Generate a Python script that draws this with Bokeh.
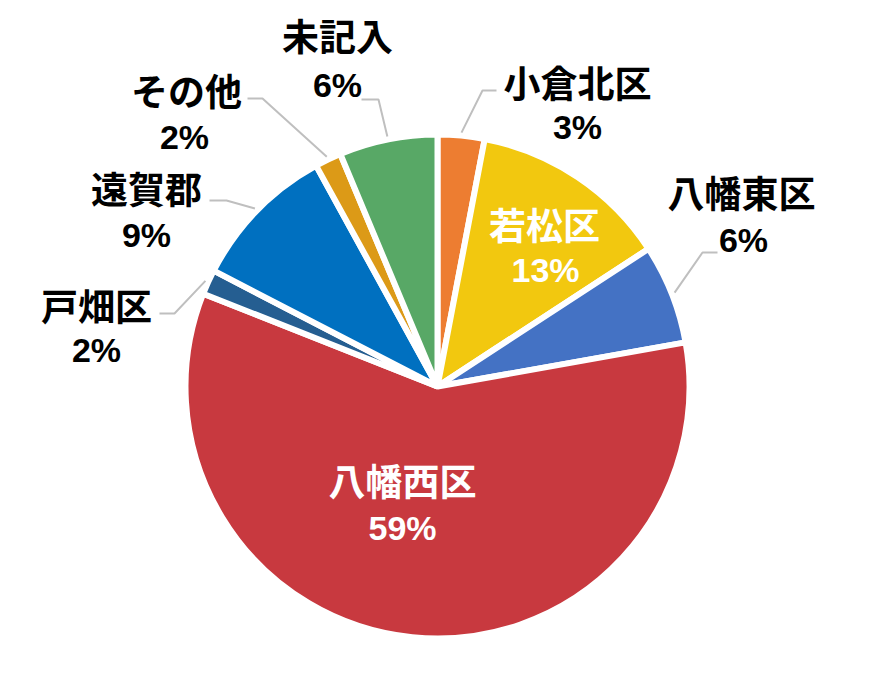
import math
from bokeh.plotting import figure
from bokeh.models import Range1d, ColumnDataSource
from bokeh.core.properties import value
from bokeh.embed import file_html
from bokeh.resources import INLINE

# ---------------- data ----------------
categories = ["小倉北区", "若松区", "八幡東区", "八幡西区", "戸畑区", "遠賀郡", "その他", "未記入"]
shares = [3.0, 12.8, 6.4, 58.8, 1.6, 9.4, 1.7, 6.3]
pct_labels = ["3%", "13%", "6%", "59%", "2%", "9%", "2%", "6%"]
colors = ["#ED7D31", "#F2C80F", "#4472C4", "#C8393F", "#255E91", "#0070C0", "#DC9A17", "#58A866"]

# ---------------- layout ----------------
R = 252
LEADER_R = 255
name_pos = [(140, 305), (107, 163), (304, 195), (-35, -93), (-341, 82), (-291, 199), (-251, 297), (-100, 352)]
pct_pos = [(140, 260), (108, 117), (306, 147), (-35, -141), (-341, 37), (-291, 152), (-253, 250), (-100, 302)]
inside = [False, True, False, True, False, False, False, False]
leader_start = {0: (59, 296), 2: (280, 134), 4: (-278, 73), 5: (-228, 186), 6: (-190, 288), 7: (-76, 287)}
leader_elbow = {0: (45, 296), 2: (265, 134), 4: (-263, 73), 5: (-211, 186), 6: (-175, 288), 7: (-59, 287)}

total = sum(shares)
starts, ends, mids = [], [], []
cum = 0.0
for v in shares:
    a0 = math.pi / 2 - 2 * math.pi * cum / total
    cum += v
    a1 = math.pi / 2 - 2 * math.pi * cum / total
    starts.append(a0)
    ends.append(a1)
    mids.append((a0 + a1) / 2)

src = ColumnDataSource(dict(cat=categories, start=starts, end=ends, color=colors))

p = figure(width=864, height=684, x_range=Range1d(-437, 427), y_range=Range1d(-298, 386),
           x_axis_type=None, y_axis_type=None, toolbar_location=None, output_backend="svg",
           min_border=0, outline_line_color=None, background_fill_color="white",
           border_fill_color="white")
p.grid.grid_line_color = None

p.wedge(x=0, y=0, radius=R, start_angle="start", end_angle="end", direction="clock",
        fill_color="color", line_color="white", line_width=6, source=src)

# leader lines
xs, ys = [], []
for i, (sx, sy) in leader_start.items():
    ex, ey = leader_elbow[i]
    tx = LEADER_R * math.cos(mids[i])
    ty = LEADER_R * math.sin(mids[i])
    xs.append([sx, ex, tx])
    ys.append([sy, ey, ty])
p.multi_line(xs, ys, line_color="#BFBFBF", line_width=2)

# labels
tcol = ["white" if f else "black" for f in inside]
p.text(x=[q[0] for q in name_pos], y=[q[1] for q in name_pos], text=categories,
       text_align="center", text_baseline="middle", text_font=value("Noto Sans CJK JP"),
       text_font_style="bold", text_font_size="37px", text_color=tcol)
p.text(x=[q[0] for q in pct_pos], y=[q[1] for q in pct_pos], text=pct_labels,
       text_align="center", text_baseline="middle", text_font=value("Liberation Sans"),
       text_font_style="bold", text_font_size="34px", text_color=tcol)

open("out.html", "w").write(file_html(p, INLINE))
